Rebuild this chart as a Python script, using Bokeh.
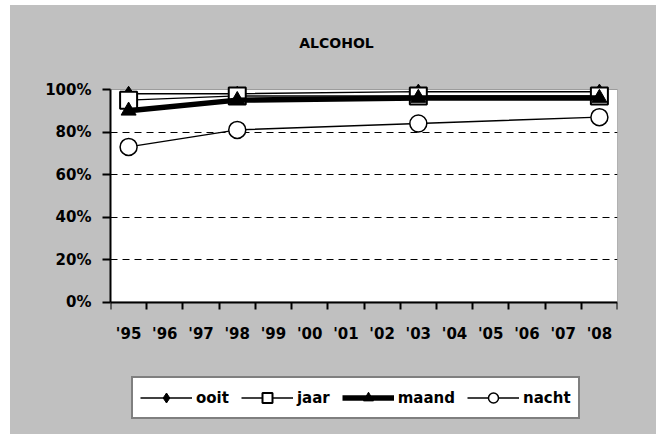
from bokeh.plotting import figure
from bokeh.models import Range1d, FixedTicker, Legend, LegendItem, BoxAnnotation, Label
from bokeh.embed import file_html
from bokeh.resources import INLINE

# ---- data ----
tick_labels = ["'95", "'96", "'97", "'98", "'99", "'00", "'01", "'02", "'03", "'04", "'05", "'06", "'07", "'08"]
survey_years = [1995, 1998, 2003, 2008]
ooit = [98, 98, 99, 99]
jaar = [95, 97, 97, 97]
maand = [90, 95, 96, 96]
nacht = [73, 81, 84, 87]
y_ticks = [0, 20, 40, 60, 80, 100]

FONT = "DejaVu Sans"
BG = "#C0C0C0"

xs = [y - 1995 for y in survey_years]
x0, x1 = -0.5, len(tick_labels) - 0.5
ymax = y_ticks[-1]

# layout: the frame spans the full figure height so that the title and
# legend can live inside it; 0%..100% occupies 212.5 px
PX_PER_UNIT = 2.125
FIG_W, FIG_H = 646, 429
ZERO_Y = 296.5            # pixel row of 0% inside the figure
y_lo = -(FIG_H - ZERO_Y) / PX_PER_UNIT
y_hi = ZERO_Y / PX_PER_UNIT

p = figure(width=FIG_W, height=FIG_H,
           x_range=Range1d(x0, x1),
           y_range=Range1d(y_lo, y_hi),
           output_backend="svg", toolbar_location=None,
           min_border_left=100, min_border_right=39,
           min_border_top=0, min_border_bottom=0)
p.margin = (5, 0, 3, 10)
p.styles = {"background-color": BG}
p.background_fill_color = BG
p.border_fill_color = BG
p.outline_line_color = None
p.title.visible = False

# white plot area with thin black border (0..100%)
area = BoxAnnotation(left=x0, right=x1, bottom=0, top=ymax,
                     fill_color="white", fill_alpha=1,
                     line_color="black", line_width=1, level="image")
p.add_layout(area)

# axes
p.xaxis.fixed_location = 0
p.xaxis.ticker = FixedTicker(ticks=list(range(len(tick_labels))),
                             minor_ticks=[i - 0.5 for i in range(len(tick_labels) + 1)])
p.xaxis.major_label_overrides = {i: t for i, t in enumerate(tick_labels)}
p.xaxis.major_tick_out = 0
p.xaxis.major_tick_in = 0
p.xaxis.minor_tick_out = 7
p.xaxis.minor_tick_in = 0
p.xaxis.minor_tick_line_width = 2
p.xaxis.axis_line_width = 2
p.xaxis.major_label_standoff = 16

p.yaxis.ticker = FixedTicker(ticks=y_ticks, minor_ticks=[])
p.yaxis.bounds = (0, ymax)
p.yaxis.major_label_overrides = {v: f"{v}%" for v in y_ticks}
p.yaxis.major_tick_out = 8
p.yaxis.major_tick_in = 0
p.yaxis.major_tick_line_width = 2
p.yaxis.axis_line_width = 2
p.yaxis.major_label_standoff = 11

for ax in (p.xaxis, p.yaxis):
    ax.axis_line_color = "black"
    ax.major_tick_line_color = "black"
    ax.minor_tick_line_color = "black"
    ax.major_label_text_font = FONT
    ax.major_label_text_font_style = "bold"
    ax.major_label_text_font_size = "15px"
    ax.major_label_text_color = "black"

p.xgrid.grid_line_color = None
p.ygrid.grid_line_color = "black"
p.ygrid.grid_line_dash = "7 5"
p.ygrid.grid_line_width = 1
p.ygrid.ticker = FixedTicker(ticks=y_ticks[1:-1])

# series
l1 = p.line(xs, ooit, line_color="black", line_width=1.5)
m1 = p.scatter(xs, ooit, marker="diamond", size=15, fill_color="black", line_color="black")
l2 = p.line(xs, jaar, line_color="black", line_width=1.5)
m2 = p.scatter(xs, jaar, marker="square", size=17, fill_color="white", line_color="black", line_width=2)
l3 = p.line(xs, maand, line_color="black", line_width=5.5)
m3 = p.scatter(xs, maand, marker="triangle", size=15, fill_color="black", line_color="black")
l4 = p.line(xs, nacht, line_color="black", line_width=1.5)
m4 = p.scatter(xs, nacht, marker="circle", size=17, fill_color="white", line_color="black", line_width=1.5)

legend = Legend(items=[
    LegendItem(label="ooit", renderers=[l1, m1]),
    LegendItem(label="jaar", renderers=[l2, m2]),
    LegendItem(label="maand", renderers=[l3, m3]),
    LegendItem(label="nacht", renderers=[l4, m4]),
], orientation="horizontal", location=(21, 15))
legend.glyph_width = 52
legend.glyph_height = 25
legend.padding = 7
legend.spacing = 12
legend.label_standoff = 4
legend.margin = 0
legend.label_text_font = FONT
legend.label_text_font_style = "bold"
legend.label_text_font_size = "15px"
legend.label_text_color = "black"
legend.border_line_color = "black"
legend.border_line_width = 2
legend.background_fill_color = "white"
legend.background_fill_alpha = 1
p.add_layout(legend, "center")

title = Label(x=5.74, y=122.1, text="ALCOHOL", text_align="center", text_baseline="middle",
              text_font=FONT, text_font_style="bold", text_font_size="14px", text_color="black")
p.add_layout(title)

open("out.html", "w").write(file_html(p, INLINE))
